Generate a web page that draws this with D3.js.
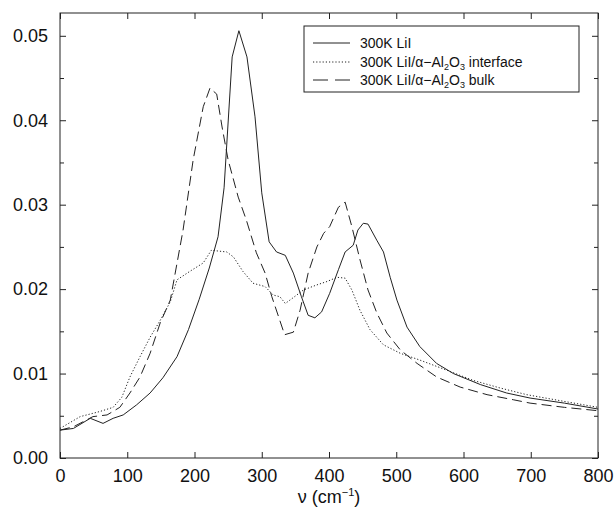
<!DOCTYPE html>
<html><head><meta charset="utf-8">
<script src="https://cdn.jsdelivr.net/npm/d3@7"></script>
<style>body{margin:0;background:#fff}svg{display:block;font-family:"Liberation Sans",Arial,Helvetica,sans-serif}</style>
</head><body><svg id="c" width="616" height="509"></svg>
<script>
// Data
const liiX = [0,20,45,64,79,94,114,134,153,174,191,207,222,235,244,256,266,278,290,300,311,322,335,347,359,369,379,389,401,414,424,436,443,451,458,471,481,491,501,516,535,560,585,625,664,699,750,800];
const liiY = [0.0033,0.0035,0.0047,0.0041,0.0047,0.0051,0.0063,0.0077,0.0095,0.0120,0.0152,0.0188,0.0225,0.0262,0.032,0.0475,0.0506,0.0475,0.0404,0.0314,0.0256,0.0244,0.024,0.0219,0.0191,0.0169,0.0166,0.0173,0.0195,0.0223,0.0244,0.0252,0.027,0.0278,0.0277,0.0258,0.0244,0.0214,0.0187,0.0155,0.0132,0.0112,0.0100,0.0087,0.0077,0.0071,0.0065,0.0058];
const ifaceX = [0,15,30,59,79,92,104,119,134,149,164,174,193,213,225,248,258,272,287,305,317,327,335,347,362,382,397,412,424,434,446,461,481,506,535,575,614,654,694,750,800];
const ifaceY = [0.0035,0.0042,0.0049,0.0055,0.0060,0.0072,0.0096,0.0120,0.0143,0.0163,0.0185,0.0211,0.0221,0.0231,0.0246,0.0244,0.0238,0.0221,0.0207,0.0203,0.0193,0.0191,0.0183,0.0190,0.0199,0.0205,0.0209,0.0214,0.0213,0.0199,0.0175,0.0152,0.0134,0.0124,0.0116,0.0104,0.0092,0.0083,0.0075,0.0067,0.0060];
const bulkX = [0,20,49,70,89,104,119,134,149,164,183,198,213,223,233,241,250,265,277,292,305,315,334,347,357,369,382,392,401,414,424,434,446,458,471,486,506,531,560,595,635,674,699,750,800];
const bulkY = [0.0033,0.0037,0.0049,0.0051,0.0060,0.0077,0.0096,0.0124,0.0160,0.0187,0.027,0.0353,0.0416,0.0438,0.0431,0.0392,0.0353,0.0309,0.0282,0.0243,0.0219,0.0191,0.0146,0.0149,0.0175,0.0219,0.025,0.0266,0.0274,0.0297,0.0303,0.0274,0.0235,0.0199,0.0172,0.0148,0.0128,0.0112,0.0096,0.0084,0.0075,0.0069,0.0065,0.0060,0.0056];
const seriesNames = ["300K LiI", "300K LiI/α\u2212Al₂O₃ interface", "300K LiI/α\u2212Al₂O₃ bulk"];
const xTicks = [0,100,200,300,400,500,600,700,800];
const yTicks = [0.00,0.01,0.02,0.03,0.04,0.05];
const yMinor = [0.005,0.015,0.025,0.035,0.045];

const svg = d3.select("#c");
const L=60,R=598,T=13,B=458;
const x = d3.scaleLinear().domain([0,800]).range([L,R]);
const y = d3.scaleLinear().domain([0,0.0527]).range([B,T]);
const ink="#222";

// frame
svg.append("rect").attr("x",L).attr("y",T).attr("width",R-L).attr("height",B-T)
  .attr("fill","none").attr("stroke",ink).attr("stroke-width",1);

// axes
const bx = svg.append("g").attr("transform",`translate(0,${B})`)
  .call(d3.axisBottom(x).tickValues(xTicks).tickFormat(d3.format("d")).tickSizeInner(-6).tickSizeOuter(0).tickPadding(11));
const tx = svg.append("g").attr("transform",`translate(0,${T})`)
  .call(d3.axisTop(x).tickValues(xTicks).tickFormat("").tickSizeInner(-6).tickSizeOuter(0));
const ly = svg.append("g").attr("transform",`translate(${L},0)`)
  .call(d3.axisLeft(y).tickValues(yTicks).tickFormat(d3.format(".2f")).tickSizeInner(-6).tickSizeOuter(0).tickPadding(12));
const lym = svg.append("g").attr("transform",`translate(${L},0)`)
  .call(d3.axisLeft(y).tickValues(yMinor).tickFormat("").tickSizeInner(-4).tickSizeOuter(0));
const ry = svg.append("g").attr("transform",`translate(${R},0)`)
  .call(d3.axisRight(y).tickValues(yTicks).tickFormat("").tickSizeInner(-6).tickSizeOuter(0));
const rym = svg.append("g").attr("transform",`translate(${R},0)`)
  .call(d3.axisRight(y).tickValues(yMinor).tickFormat("").tickSizeInner(-4).tickSizeOuter(0));
[bx,tx,ly,lym,ry,rym].forEach(g=>{
  g.select(".domain").remove();
  g.selectAll("line").attr("stroke",ink);
  g.selectAll("text").attr("fill","#111").style("font-size","18px").style("font-family","'Liberation Sans',Arial,sans-serif");
});

// axis title
const t = svg.append("text").attr("x",329).attr("y",503).attr("text-anchor","middle")
  .style("font-size","18px").attr("fill","#111");
t.append("tspan").text("ν (cm");
t.append("tspan").text("−1").attr("dy",-7).style("font-size","11px");
t.append("tspan").text(")").attr("dy",7);

// lines
const line = d3.line().x(d=>x(d[0])).y(d=>y(d[1]));
const styles = [null,"1.2,2","10,5"];
const sets = [[liiX,liiY],[ifaceX,ifaceY],[bulkX,bulkY]];
sets.forEach((s,i)=>{
  const pts = s[0].map((v,j)=>[v,s[1][j]]);
  svg.append("path").datum(pts).attr("d",line).attr("fill","none")
    .attr("stroke",ink).attr("stroke-width",1).attr("stroke-dasharray",styles[i]);
});

// legend
const lg = svg.append("g");
lg.append("rect").attr("x",304).attr("y",26).attr("width",275).attr("height",66)
  .attr("fill","#fff").attr("stroke",ink).attr("stroke-width",1);
const rows=[43,62,80];
const legendTexts = [
  [["300K LiI",0]],
  [["300K LiI/α−Al",0],["2",1],["O",0],["3",1],[" interface",0]],
  [["300K LiI/α−Al",0],["2",1],["O",0],["3",1],[" bulk",0]]
];
rows.forEach((yy,i)=>{
  lg.append("line").attr("x1",313).attr("x2",i==2?351:350).attr("y1",yy).attr("y2",yy)
    .attr("stroke",ink).attr("stroke-width",1).attr("stroke-dasharray",i==2?"15,7":styles[i]);
  const tt = lg.append("text").attr("x",360).attr("y",yy+5).style("font-size","14px").attr("fill","#111");
  tt.attr("data-name",seriesNames[i]);
  let sub=false;
  legendTexts[i].forEach(([s,isSub])=>{
    const sp = tt.append("tspan").text(s);
    if(isSub && !sub){sp.attr("dy",3).style("font-size","9px");sub=true;}
    else if(isSub && sub){sp.style("font-size","9px");}
    else if(!isSub && sub){sp.attr("dy",-3);sub=false;}
  });
});
</script></body></html>
